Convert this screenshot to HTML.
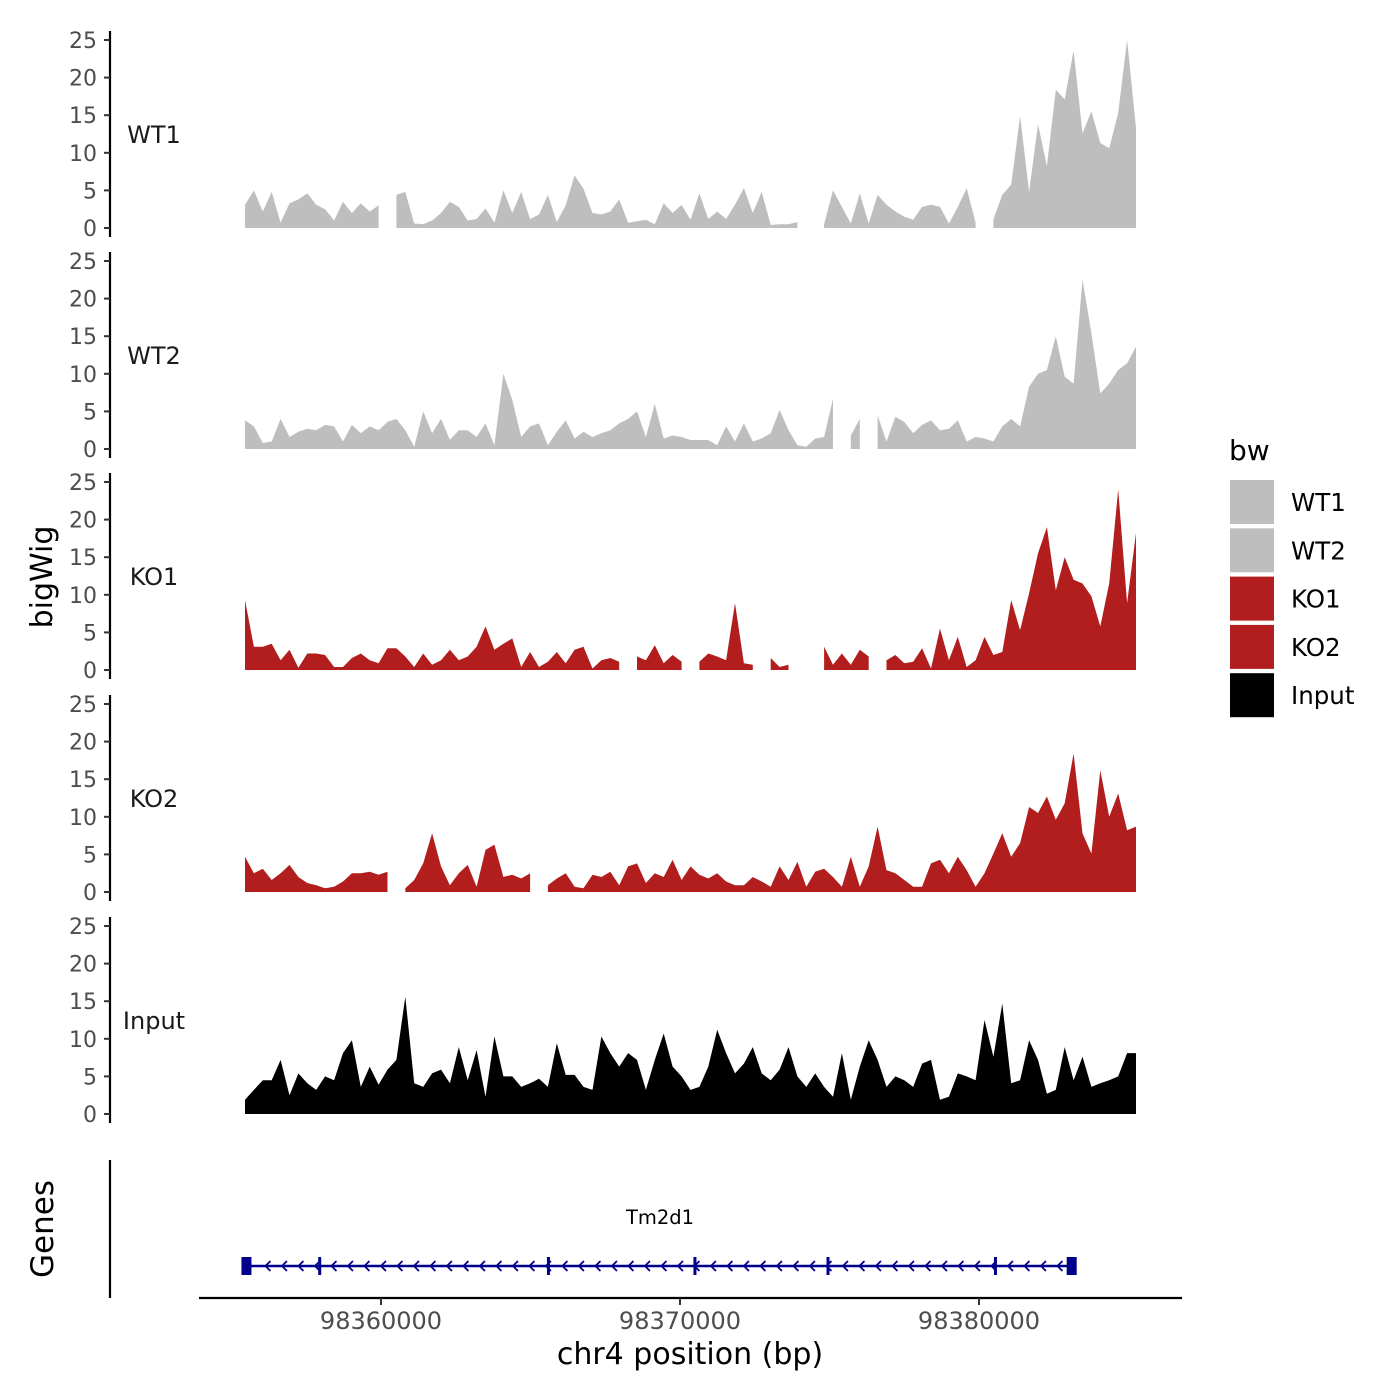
<!DOCTYPE html>
<html><head><meta charset="utf-8"><style>
body{margin:0;background:#fff}
svg{display:block;font-family:"DejaVu Sans","Liberation Sans",sans-serif}
</style></head><body>
<svg id="c" width="1400" height="1400" viewBox="0 0 1400 1400" xmlns="http://www.w3.org/2000/svg">
<g id="tracks"></g>
<g id="genes"></g>
<g id="xaxis"></g>
<g id="legend"></g>
</svg>
<script>
const trackNames = ["WT1","WT2","KO1","KO2","Input"];
const trackColors = ["#bebebe","#bebebe","#b21e1e","#b21e1e","#000000"];
const yTicks = [0,5,10,15,20,25];
const xTicks = [98360000,98370000,98380000];
const xTickLabels = ["98360000","98370000","98380000"];
const regionStart = 98355450, regionEnd = 98385250;
const wt1 = [3.1,5,2.2,4.8,0.7,3.3,3.8,4.6,3.1,2.5,1,3.5,2,3.3,2.2,3,null,4.4,4.8,0.6,0.5,1,2,3.5,2.8,1,1.2,2.6,0.7,5,2,4.8,1.2,1.8,4.4,0.8,3,7,5.2,2,1.8,2.2,3.8,0.7,0.9,1.1,0.5,3.3,2,3.1,1.1,4.6,1.2,2.2,1.2,3.1,5.3,2,4.8,0.4,0.5,0.5,0.8,null,null,0.5,5,2.8,0.6,4.6,0.6,4.4,3.1,2.2,1.5,1.1,2.8,3.1,2.8,0.6,2.8,5.3,0.7,null,1.2,4.4,5.8,14.9,4.8,13.8,8.2,18.4,17.1,23.6,12.6,15.5,11.3,10.6,15.3,25,13.3];
const wt2 = [3.8,3,0.8,1,4,1.6,2.3,2.7,2.5,3.2,3,1,3.2,2.1,3,2.5,3.6,4,2.5,0.3,5,2.1,4,1.2,2.5,2.5,1.6,3.4,0.5,10,6.5,1.6,3,3.4,0.5,2.3,3.8,1.4,2.3,1.6,2.1,2.5,3.4,4,5,1.6,6,1.4,1.8,1.6,1.2,1.2,1.2,0.5,3,1,3.4,1,1.4,2.1,5.2,2.5,0.5,0.3,1.4,1.6,6.7,null,1.8,4,null,4.5,1,4.3,3.6,2.1,3.2,3.8,2.5,2.7,3.8,1,1.6,1.4,1,3,4,3,8.3,10,10.5,15,9.6,8.7,22.5,15.4,7.4,8.7,10.5,11.4,13.6];
const ko1 = [9.3,3.1,3.1,3.5,1.3,2.7,0.3,2.2,2.2,2,0.4,0.4,1.6,2.2,1.3,0.9,2.9,2.9,1.8,0.4,2.2,0.7,1.3,2.7,1.3,1.8,3.1,5.8,2.7,3.5,4.2,0.4,2.4,0.4,1.1,2.4,0.9,2.7,3.1,0.2,1.3,1.6,1.1,null,1.8,1.3,3.3,0.9,2,1.1,null,1.1,2.2,1.8,1.3,8.9,0.9,0.7,null,1.6,0.4,0.7,null,0.9,null,3.1,0.7,2.2,0.7,2.7,1.8,null,1.3,2,0.9,1.1,2.9,0.2,5.5,1.3,4.4,0.4,1.3,4.4,2,2.4,9.3,5.3,10.2,15.5,19,10.6,15,12,11.5,9.8,5.8,11.5,24,8.9,18.2];
const ko2 = [4.7,2.5,3.1,1.6,2.5,3.6,2,1.2,0.9,0.5,0.7,1.4,2.5,2.5,2.7,2.3,2.7,null,0.5,1.6,3.8,7.8,3.4,0.9,2.5,3.6,0.7,5.6,6.3,2,2.3,1.8,2.5,null,0.9,1.8,2.5,0.7,0.5,2.3,2,2.7,0.9,3.4,3.8,1.2,2.5,2,4.3,1.6,3.4,2.3,1.8,2.5,1.4,0.9,0.9,2,1.4,0.7,3.4,1.6,4,0.7,2.7,3.1,2,0.7,4.7,0.7,3.4,8.7,2.9,2.5,1.6,0.7,0.7,3.8,4.3,2.5,4.7,2.9,0.7,2.5,5.1,7.8,4.7,6.5,11.3,10.5,12.7,9.6,11.8,18.4,7.8,5.1,16.2,10,13.1,8.2,8.7];
const inputVals = [1.9,3.2,4.5,4.5,7.2,2.5,5.4,4.1,3.2,5,4.5,8.1,9.8,3.6,6.3,3.9,5.9,7.2,15.6,4.1,3.6,5.4,5.9,4.1,8.9,4.5,8.5,2.3,10.3,5,5,3.6,4.1,4.7,3.6,9.4,5.2,5.2,3.6,3.2,10.3,8.1,6.3,8.1,7.2,3.2,7.2,10.7,6.3,5,3.2,3.6,6.3,11.2,8.1,5.4,6.7,8.9,5.4,4.5,5.9,8.9,5,3.6,5.4,3.6,2.3,8.1,1.9,6.3,9.8,7.2,3.6,5,4.5,3.6,6.7,7.2,1.9,2.3,5.4,5,4.5,12.5,7.6,14.7,4.1,4.5,9.8,7.2,2.7,3.2,8.9,4.5,7.6,3.6,4.1,4.5,5,8.1,8.1];
const trackData = [wt1,wt2,ko1,ko2,inputVals];
const geneExons = [98355500,98357950,98365600,98370500,98374950,98380550,98383100];
const geneStart = 98355500, geneEnd = 98383100;

const NS="http://www.w3.org/2000/svg";
function mk(tag,attrs,parent,text){const e=document.createElementNS(NS,tag);for(const k in attrs)e.setAttribute(k,attrs[k]);if(text!=null)e.textContent=text;parent.appendChild(e);return e;}
const xScale = bp => 381 + (bp-98360000)*0.0299;
const baselines = [228,449,670,892,1114];
const pxPerUnit = 7.52;

const T=document.getElementById('tracks');
trackNames.forEach((name,ti)=>{
  const b=baselines[ti];
  const yS=v=>b - v*pxPerUnit;
  const g=mk('g',{},T);
  
  
  const ax=mk('line',{x1:110,x2:110,y1:b-197,y2:b+9,stroke:'#000','stroke-width':2.2},g);
   
  yTicks.forEach(t=>{
    const tk=mk('line',{x1:104,x2:110,y1:yS(t),y2:yS(t),stroke:'#333','stroke-width':2},g);
     
    const tl=mk('text',{x:97,y:yS(t)+8,'text-anchor':'end','font-size':22,fill:'#4d4d4d'},g,String(t));
     
  });
  const lab=mk('text',{x:154,y:b-85,'text-anchor':'middle','font-size':24,fill:'#1a1a1a'},g,name);
   
  const vals=trackData[ti], n=vals.length, step=(regionEnd-regionStart)/(n-1);
  let seg=[];
  const flush=()=>{
    if(seg.length){
      let d='M'+seg[0][0]+','+b;
      seg.forEach(p=>d+='L'+p[0]+','+p[1]);
      d+='L'+seg[seg.length-1][0]+','+b+'Z';
      const p=mk('path',{d:d,fill:trackColors[ti]},g);
       
    }
    seg=[];
  };
  vals.forEach((v,i)=>{
    const x=xScale(regionStart+i*step);
    if(v==null){flush();}else seg.push([x.toFixed(1),yS(v).toFixed(1)]);
  });
  flush();
});
const yt=mk('text',{x:0,y:0,transform:'translate(52,577) rotate(-90)','text-anchor':'middle','font-size':30,fill:'#000'},T,'bigWig');
 

// genes
const G=document.getElementById('genes');
const gl=mk('line',{x1:110,x2:110,y1:1160,y2:1298,stroke:'#000','stroke-width':2.2},G);
 
const gt=mk('text',{x:0,y:0,transform:'translate(53,1229) rotate(-90)','text-anchor':'middle','font-size':31,fill:'#000'},G,'Genes');
 
const gx1=xScale(geneStart), gx2=xScale(geneEnd);
const gline=mk('line',{x1:gx1,x2:gx2,y1:1266,y2:1266,stroke:'#00008b','stroke-width':2.5},G);
 
for(let x=gx1+20;x<gx2-8;x+=16.5){
  const c=mk('path',{d:`M${x+4},1261 L${x-1},1266 L${x+4},1271`,stroke:'#00008b','stroke-width':1.8,fill:'none'},G);
   
}
geneExons.forEach((e,i)=>{
  const x=xScale(e); const w=(i==0||i==geneExons.length-1)?10:3;
  const r=mk('rect',{x:x-w/2,y:1257,width:w,height:18,fill:'#00008b'},G);
   
});
const gn=mk('text',{x:660,y:1224,'text-anchor':'middle','font-size':19.5,fill:'#000'},G,'Tm2d1');
 

// x axis
const X=document.getElementById('xaxis');
const xl=mk('line',{x1:199,x2:1182,y1:1298,y2:1298,stroke:'#000','stroke-width':2.2},X);
 
xTicks.forEach((t,i)=>{
  const x=xScale(t);
  const tk=mk('line',{x1:x,x2:x,y1:1298,y2:1305,stroke:'#333','stroke-width':2},X);
   
  const tl=mk('text',{x:x,y:1329,'text-anchor':'middle','font-size':24,fill:'#4d4d4d'},X,xTickLabels[i]);
   
});
const xt=mk('text',{x:690,y:1364,'text-anchor':'middle','font-size':30,fill:'#000'},X,'chr4 position (bp)');
 

// legend
const L=document.getElementById('legend');
const lt=mk('text',{x:1229,y:460,'font-size':28,fill:'#000'},L,'bw');
 
trackNames.forEach((n,i)=>{
  const y=480+i*48.3;
  const g=mk('g',{},L);
   
  mk('rect',{x:1230,y:y,width:44,height:44,fill:trackColors[i]},g);
  mk('text',{x:1291,y:y+31,'font-size':24.5,fill:'#000'},g,n);
});
</script>
</body></html>
